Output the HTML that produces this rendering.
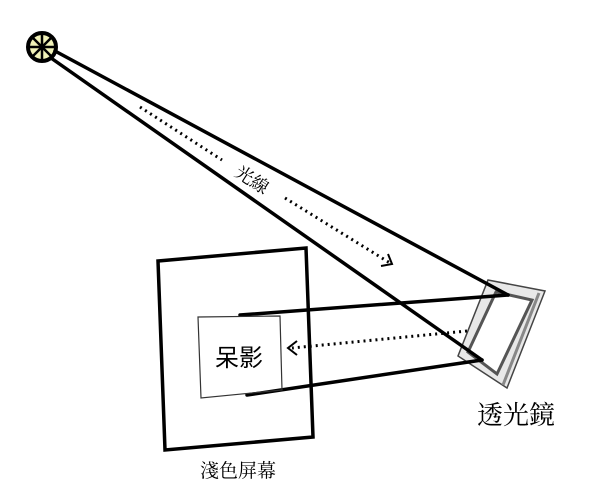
<!DOCTYPE html>
<html><head><meta charset="utf-8"><style>
html,body{margin:0;padding:0;background:#fff;width:600px;height:504px;overflow:hidden}
</style></head><body>
<svg width="600" height="504" viewBox="0 0 600 504" xmlns="http://www.w3.org/2000/svg" font-family="'Liberation Serif','Noto Serif CJK SC',serif">
<rect width="600" height="504" fill="#fff"/>
<circle cx="42" cy="47" r="14" fill="#f1f2b8" stroke="#000" stroke-width="4"/>
<g stroke="#000" stroke-width="2.5">
<line x1="42" y1="34" x2="42" y2="60"/><line x1="29" y1="47" x2="55" y2="47"/>
<line x1="33" y1="38" x2="51" y2="56"/><line x1="51" y1="38" x2="33" y2="56"/>
</g>
<polygon points="488,280 545,291 507,388 458,356" fill="#e8e8e8" stroke="#444" stroke-width="1.5"/>
<polygon points="496,292 532,300 497,374 468,352" fill="#fff" stroke="#555" stroke-width="3"/>
<line x1="539" y1="293" x2="503" y2="385" stroke="#888" stroke-width="3"/>
<g stroke="#000" stroke-width="3.5" fill="none" stroke-linecap="round">
<line x1="55" y1="51" x2="508" y2="295"/>
<line x1="51" y1="58" x2="482" y2="360"/>
<line x1="240" y1="315" x2="508" y2="295"/>
<line x1="247" y1="395" x2="482" y2="360"/>
</g>
<polygon points="158,261 306,248 313,437 165,450" fill="none" stroke="#000" stroke-width="3.5"/>
<polygon points="198,317 280,316 282,390 201,398" fill="none" stroke="#333" stroke-width="1.2"/>
<text x="239" y="366" font-size="24" text-anchor="middle" font-family="'Liberation Sans','Noto Sans CJK SC',sans-serif">呆影</text>
<g stroke="#000" stroke-width="3" stroke-dasharray="2 4" fill="none">
<line x1="140" y1="107" x2="222" y2="160"/>
<line x1="285" y1="198" x2="390" y2="263"/>
<line x1="467" y1="331" x2="292" y2="348"/>
</g>
<polyline points="381,266 392,264 388,254" fill="none" stroke="#000" stroke-width="2"/>
<polyline points="297,341 288,348 297,355" fill="none" stroke="#000" stroke-width="2"/>
<text x="252" y="186" font-size="18" text-anchor="middle" transform="rotate(33 252 180)">光線</text>
<text x="516" y="424" font-size="26" text-anchor="middle">透光鏡</text>
<text x="238" y="477" font-size="19" text-anchor="middle">淺色屏幕</text>
</svg>
</body></html>
